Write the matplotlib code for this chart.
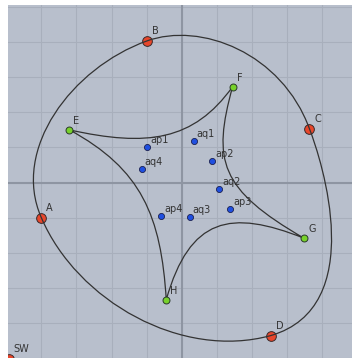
import matplotlib
matplotlib.use("Agg")
import matplotlib.pyplot as plt
from matplotlib.path import Path
from matplotlib.patches import PathPatch

# corner points sitting on the outer loop
corner_names = ["A", "B", "C", "D"]
corner_x = [-4.0, -1.0, 3.64, 2.54]
corner_y = [-1.0, 4.03, 1.53, -4.36]

# bezier handles of the outer loop, segment i runs corner i -> corner i+1
outer_h1_x = [-4.86, 0.54, 3.99, 0.0]
outer_h1_y = [0.95, 4.59, 0.63, -5.06]
outer_h2_x = [-3.13, 2.85, 5.33, -2.98]
outer_h2_y = [3.26, 3.69, -3.55, -3.38]

# tips of the inner star
tip_names = ["E", "F", "G", "H"]
tip_x = [-3.2, 1.45, 3.49, -0.44]
tip_y = [1.5, 2.73, -1.59, -3.34]

# control points of the star arcs: arc i goes tip i -> tip i+1 via ap_i, aq_i
ap_names = ["ap1", "ap2", "ap3", "ap4"]
ap_x = [-0.99, 0.87, 1.39, -0.59]
ap_y = [1.01, 0.62, -0.75, -0.95]
aq_names = ["aq1", "aq2", "aq3", "aq4"]
aq_x = [0.34, 1.07, 0.23, -1.14]
aq_y = [1.18, -0.19, -0.99, 0.38]

# lone point in the corner, mostly outside the view
sw_x, sw_y = -4.92, -5.04

BG = "#b8bfcc"
GRID = "#a8afbc"
AXIS = "#8e95a2"
CURVE = "#333333"
TXT = "#333333"


def bezier_loop(px, py, h1x, h1y, h2x, h2y):
    verts = [(px[0], py[0])]
    codes = [Path.MOVETO]
    n = len(px)
    for i in range(n):
        j = (i + 1) % n
        verts += [(h1x[i], h1y[i]), (h2x[i], h2y[i]), (px[j], py[j])]
        codes += [Path.CURVE4] * 3
    return Path(verts, codes)


def label_points(ax, names, xs, ys, dx, dy):
    for name, x, y in zip(names, xs, ys):
        ax.annotate(name, (x, y), xytext=(dx, dy), textcoords="offset pixels",
                    ha="left", va="baseline", fontsize=7, color=TXT, zorder=6,
                    annotation_clip=False)


fig = plt.figure(figsize=(3.52, 3.58), dpi=100)
fig.patch.set_facecolor("white")
ax = fig.add_axes([8 / 352, 0, 344 / 352, 353 / 358])
ax.set_facecolor(BG)
ax.set_xlim(-4.949, 4.852)
ax.set_ylim(-5.0, 5.057)

ax.set_xticks(range(-4, 5))
ax.set_yticks(range(-5, 6))
ax.grid(True, color=GRID, lw=0.8)
ax.set_axisbelow(True)
ax.tick_params(length=0, labelbottom=False, labelleft=False)
for s in ax.spines.values():
    s.set_visible(False)
ax.axhline(0, color=AXIS, lw=1.5, zorder=1)
ax.axvline(0, color=AXIS, lw=1.5, zorder=1)

outer = bezier_loop(corner_x, corner_y, outer_h1_x, outer_h1_y, outer_h2_x, outer_h2_y)
ax.add_patch(PathPatch(outer, fill=False, ec=CURVE, lw=0.9, zorder=4))
star = bezier_loop(tip_x, tip_y, ap_x, ap_y, aq_x, aq_y)
ax.add_patch(PathPatch(star, fill=False, ec=CURVE, lw=0.9, zorder=4))

ax.plot(corner_x + [sw_x], corner_y + [sw_y], "o", ms=7, mfc="#e8462b",
        mec="#3a2a2a", mew=0.7, ls="none", zorder=3)
ax.plot(tip_x, tip_y, "o", ms=5, mfc="#77d12b", mec="#2a3a2a", mew=0.7,
        ls="none", zorder=5)
ax.plot(ap_x + aq_x, ap_y + aq_y, "o", ms=4.4, mfc="#1f4fe0", mec="#1a2050",
        mew=0.6, ls="none", zorder=5)

label_points(ax, corner_names, corner_x, corner_y, 5, 7)
label_points(ax, ["SW"], [sw_x], [sw_y], 4, 7)
label_points(ax, tip_names, tip_x, tip_y, 4, 6)
label_points(ax, ap_names + aq_names, ap_x + aq_x, ap_y + aq_y, 3, 4)

fig.savefig("out.png", dpi=100)
